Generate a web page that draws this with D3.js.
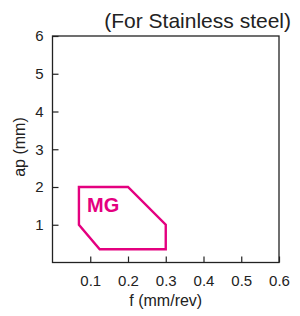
<!DOCTYPE html>
<html>
<head>
<meta charset="utf-8">
<script src="https://cdn.jsdelivr.net/npm/d3@7"></script>
<style>
  body { margin: 0; background: #fff; }
  svg { display: block; font-family: "Liberation Sans", Arial, sans-serif; }
</style>
</head>
<body>
<svg id="chart" width="300" height="316"></svg>
<script>
const xTicks = [0.1, 0.2, 0.3, 0.4, 0.5, 0.6]
const yTicks = [1, 2, 3, 4, 5, 6]
// outline of the MG range, f (mm/rev) and ap (mm)
const mgF = [0.07, 0.2, 0.3, 0.3, 0.125, 0.07]
const mgAp = [2, 2, 1, 0.35, 0.35, 1]
const title = '(For Stainless steel)'

const svg = d3.select('#chart')
const plotL = 52.5, plotR = 279, plotT = 36, plotB = 262.5

const x = d3.scaleLinear().domain([0, 0.6]).range([plotL, plotR])
const y = d3.scaleLinear().domain([0, 6]).range([plotB, plotT])

// frame
svg.append('rect')
  .attr('x', plotL).attr('y', plotT)
  .attr('width', plotR - plotL).attr('height', plotB - plotT)
  .attr('fill', 'none').attr('stroke', '#222').attr('stroke-width', 1.3)

const xAxis = svg.append('g')
  .attr('transform', `translate(0,${plotB})`)
  .call(d3.axisBottom(x).tickValues(xTicks).tickSize(-6).tickPadding(13).tickFormat(d3.format('.1f')))
const yAxis = svg.append('g')
  .attr('transform', `translate(${plotL},0)`)
  .call(d3.axisLeft(y).tickValues(yTicks).tickSize(-6).tickPadding(9).tickFormat(d3.format('d')))

;[xAxis, yAxis].forEach(a => {
  a.select('.domain').remove()
  a.selectAll('line').attr('stroke', '#222').attr('stroke-width', 1.2)
  a.selectAll('text').attr('font-size', 15).attr('fill', '#222')
    .attr('font-family', '"Liberation Sans", Arial, sans-serif')
})

const pts = mgF.map((f, i) => [x(f), y(mgAp[i])])
svg.append('path')
  .attr('d', d3.line()(pts) + 'Z')
  .attr('fill', 'none')
  .attr('stroke', '#e4007f')
  .attr('stroke-width', 2.4)
  .attr('stroke-linejoin', 'miter')

svg.append('text')
  .attr('x', 87).attr('y', 212)
  .attr('font-size', 20).attr('font-weight', 'bold')
  .attr('fill', '#e4007f')
  .text('MG')

svg.append('text')
  .attr('x', 291).attr('y', 28)
  .attr('text-anchor', 'end')
  .attr('font-size', 21).attr('fill', '#222')
  .text(title)

svg.append('text')
  .attr('x', (plotL + plotR) / 2).attr('y', 306)
  .attr('text-anchor', 'middle')
  .attr('font-size', 16).attr('fill', '#222')
  .text('f (mm/rev)')

svg.append('text')
  .attr('transform', `translate(25,147) rotate(-90)`)
  .attr('text-anchor', 'middle')
  .attr('font-size', 16).attr('fill', '#222')
  .text('ap (mm)')
</script>
</body>
</html>
